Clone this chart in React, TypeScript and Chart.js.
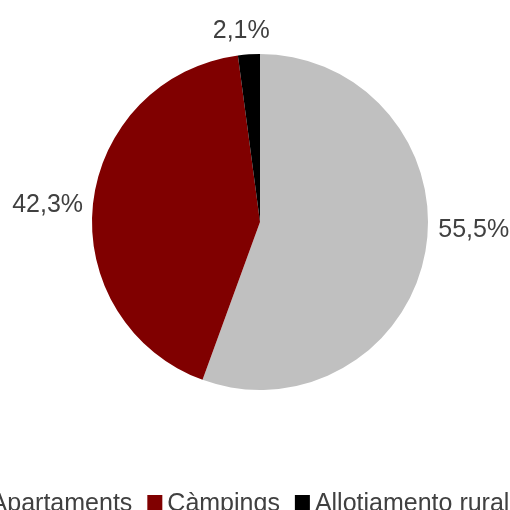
import React, { useEffect, useRef } from "react";
import { Chart, registerables } from "chart.js";

Chart.register(...registerables);

const categories = ["Apartaments", "Càmpings", "Allotjamento rural"];
const shares = [55.5, 42.3, 2.1];
const sliceColors = ["#C0C0C0", "#800000", "#000000"];

const FONT = '25px "Liberation Sans", Arial, sans-serif';
const TEXT_COLOR = "#404040";

const labelNudges = [
  { dx: 3, dy: -25 },
  { dx: 0, dy: 0 },
  { dx: -7, dy: 0 },
];

const outerLabels = {
  id: "outerLabels",
  afterDatasetsDraw(chart: any) {
    const ctx = chart.ctx;
    const meta = chart.getDatasetMeta(0);
    const values = chart.data.datasets[0].data as number[];
    ctx.save();
    ctx.font = FONT;
    ctx.fillStyle = TEXT_COLOR;
    ctx.textBaseline = "alphabetic";
    const capH = 18;
    meta.data.forEach((arc: any, i: number) => {
      const p = arc.getProps(["x", "y", "startAngle", "endAngle", "outerRadius"], true);
      const mid = (p.startAngle + p.endAngle) / 2;
      const dx = Math.cos(mid);
      const dy = Math.sin(mid);
      const R = p.outerRadius + 10;
      const ax = p.x + dx * R;
      const ay = p.y + dy * R;
      const text = values[i].toFixed(1).replace(".", ",") + "%";
      let align: CanvasTextAlign = "center";
      let by = ay + capH / 2;
      if (dx > 0.3) align = "left";
      else if (dx < -0.3) align = "right";
      else {
        align = "center";
        by = dy < 0 ? ay - 6 : ay + capH + 6;
      }
      ctx.textAlign = align;
      const n = labelNudges[i] || { dx: 0, dy: 0 };
      ctx.fillText(text, ax + n.dx, by + n.dy);
    });
    ctx.restore();
  },
};

const bottomLegend = {
  id: "bottomLegend",
  afterDraw(chart: any) {
    const ctx = chart.ctx;
    const labels = chart.data.labels as string[];
    const colors = chart.data.datasets[0].backgroundColor as string[];
    ctx.save();
    ctx.font = FONT;
    const box = 15;
    const boxGap = 5;
    const itemGap = 15;
    const widths = labels.map((l) => ctx.measureText(l).width);
    const total =
      widths.reduce((a, b) => a + b, 0) + labels.length * (box + boxGap) + (labels.length - 1) * itemGap;
    const centerX = 240;
    let x = centerX - total / 2;
    const baseline = 511;
    labels.forEach((l, i) => {
      ctx.fillStyle = colors[i];
      ctx.fillRect(x, 495, box, box);
      x += box + boxGap;
      ctx.fillStyle = TEXT_COLOR;
      ctx.textAlign = "left";
      ctx.textBaseline = "alphabetic";
      ctx.fillText(l, x, baseline);
      x += widths[i] + itemGap;
    });
    ctx.restore();
  },
};

export default function App() {
  const ref = useRef<HTMLCanvasElement | null>(null);
  useEffect(() => {
    document.body.style.margin = "0";
    if (!ref.current) return;
    const chart = new Chart(ref.current, {
      type: "pie",
      data: {
        labels: categories,
        datasets: [
          {
            data: shares,
            backgroundColor: sliceColors,
            borderWidth: 0,
          },
        ],
      },
      options: {
        animation: false,
        responsive: false,
        maintainAspectRatio: false,
        layout: { padding: { top: 54, bottom: 120, left: 10, right: 0 } },
        plugins: {
          legend: { display: false },
          tooltip: { enabled: false },
        },
      },
      plugins: [outerLabels, bottomLegend],
    });
    return () => chart.destroy();
  }, []);
  return (
    <div style={{ width: 510, height: 510, background: "#fff" }}>
      <canvas ref={ref} width={510} height={510} style={{ display: "block" }} />
    </div>
  );
}
